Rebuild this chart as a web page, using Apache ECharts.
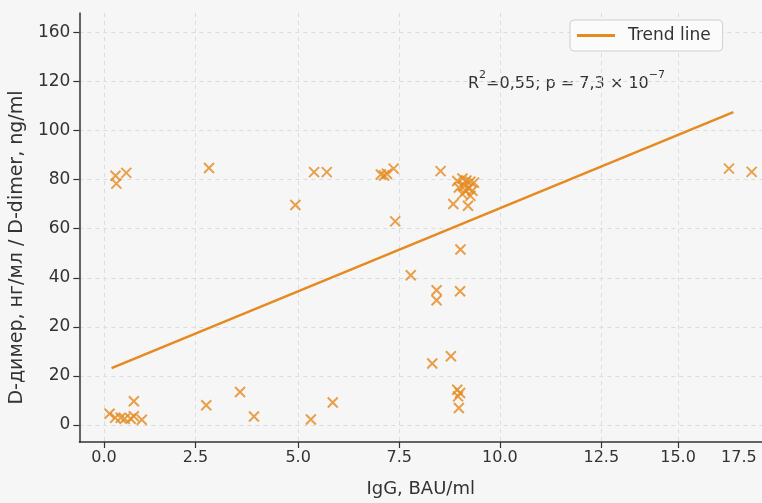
<!DOCTYPE html>
<html>
<head>
<meta charset="utf-8">
<script src="https://cdn.jsdelivr.net/npm/echarts@6/dist/echarts.min.js"></script>
<style>
html,body{margin:0;padding:0;background:#f6f6f6;}
#chart{width:762px;height:503px;}
</style>
</head>
<body>
<div id="chart"></div>
<script>
// IgG (x) and D-dimer (y) values, in the plot's own linear axis units
const iggValues = [
  0.29, 0.31, 0.56, 2.64,
  0.14, 0.28, 0.42, 0.52, 0.67, 0.75, 0.95, 0.75, 2.57, 3.42, 3.77, 5.20, 5.75,
  4.81, 5.28, 5.60, 6.96, 7.04, 7.11, 7.28, 8.46, 7.32, 7.71,
  8.36, 8.36, 8.95, 8.25, 8.72, 8.88, 8.95, 8.90, 8.92, 8.96,
  8.88, 9.01, 9.11, 9.21, 9.30, 8.92, 9.05, 9.17, 9.09, 9.26, 9.01, 9.21, 8.78, 9.15,
  15.71, 16.28
];
const ddimerValues = [
  101.6, 98.4, 102.8, 104.8,
  4.5, 2.9, 2.9, 2.5, 2.5, 3.5, 2.1, 9.6, 8.0, 13.4, 3.4, 2.2, 9.1,
  89.7, 103.1, 103.1, 102.1, 101.7, 102.4, 104.5, 103.5, 83.0, 61.0,
  54.9, 50.8, 54.5, 25.0, 28.0, 14.3, 13.0, 11.6, 6.9, 71.5,
  99.5, 100.5, 99.7, 99.2, 98.8, 96.8, 97.5, 96.5, 95.5, 95.5, 94.1, 93.4, 90.1, 89.4,
  104.5, 103.2
];
// Trend line end points
const trendX = [0.19, 15.82];
const trendY = [23.1, 127.6];

// Tick labels as printed on the reference, with the axis positions where they sit
const xTickLabels = ['0.0', '2.5', '5.0', '7.5', '10.0', '12.5', '15.0', '17.5'];
const xLabelPositions = [0, 2.30, 4.88, 7.42, 9.95, 12.50, 14.43, 15.96];
const xTickPositions = [0, 2.30, 4.88, 7.42, 9.95, 12.50, 14.43];
const yTickLabels = ['0', '20', '20', '40', '60', '80', '100', '120', '160'];
const yTickPositions = [0, 20, 40, 60, 80, 100, 120, 140, 160];

const ORANGE = '#E58A1F';
const FONT = 'DejaVu Sans';

function lookup(positions, labels, v) {
  for (let i = 0; i < positions.length; i++) {
    if (Math.abs(positions[i] - v) < 1e-6) return labels[i];
  }
  return '';
}

const scatterData = iggValues.map((x, i) => [x, ddimerValues[i]]);
const trendData = trendX.map((x, i) => [x, trendY[i]]);

const chart = echarts.init(document.getElementById('chart'), null, {renderer: 'canvas'});
chart.setOption({
  backgroundColor: '#f6f6f6',
  animation: false,
  textStyle: {fontFamily: FONT},
  grid: {left: 78, right: 0, top: 13, bottom: 55, containLabel: false},
  legend: {
    data: [{name: 'Trend line', icon: 'rect'}],
    left: 570, top: 20,
    padding: [7, 12, 7, 7],
    itemWidth: 38, itemHeight: 3,
    itemStyle: {color: ORANGE},
    backgroundColor: '#fbfbfb',
    borderColor: '#cfcfcf', borderWidth: 1, borderRadius: 4,
    textStyle: {fontSize: 17, color: '#333', fontFamily: FONT, padding: [0, 0, 0, 8]}
  },
  xAxis: {
    type: 'value', min: -0.62, max: 16.54,
    name: 'IgG, BAU/ml', nameLocation: 'middle', nameGap: 38,
    nameTextStyle: {fontSize: 18, color: '#333', fontFamily: FONT},
    axisLine: {show: true, onZero: false, lineStyle: {color: '#333', width: 1.5}},
    axisTick: {show: true, length: 6, customValues: xTickPositions, lineStyle: {color: '#333', width: 1.2}},
    axisLabel: {
      customValues: xLabelPositions, fontSize: 16, color: '#333', margin: 8, fontFamily: FONT,
      formatter: v => lookup(xLabelPositions, xTickLabels, v)
    },
    splitLine: {show: true, lineStyle: {type: [4, 4], color: '#d9dde0', width: 1}}
  },
  yAxis: {
    type: 'value', min: -7, max: 168,
    name: 'D-димер, нг/мл / D-dimer, ng/ml', nameLocation: 'middle', nameGap: 52,
    nameTextStyle: {fontSize: 19, color: '#333', fontFamily: FONT, padding: [0, 40, 0, 0]},
    axisLine: {show: true, onZero: false, lineStyle: {color: '#333', width: 1.5}},
    axisTick: {show: true, length: 6, customValues: yTickPositions, lineStyle: {color: '#333', width: 1.2}},
    axisLabel: {
      customValues: yTickPositions, fontSize: 17, color: '#333', margin: 9, fontFamily: FONT,
      formatter: v => lookup(yTickPositions, yTickLabels, v)
    },
    splitLine: {show: true, lineStyle: {type: [4, 4], color: '#d9dde0', width: 1}}
  },
  series: [
    {
      type: 'scatter', name: 'Data',
      data: scatterData,
      symbol: 'path://M0,0L10,10M10,0L0,10',
      symbolSize: 10,
      itemStyle: {color: 'none', borderColor: ORANGE, borderWidth: 2},
      z: 3
    },
    {
      type: 'line', name: 'Trend line',
      data: trendData,
      symbol: 'none', showSymbol: false,
      lineStyle: {color: ORANGE, width: 2.5},
      itemStyle: {color: ORANGE},
      z: 2
    }
  ],
  graphic: [{
    type: 'text', left: 468, top: 70,
    style: {
      text: '{a|R}{s|2}{a|=0,55; p = 7,3 × 10}{s|−7}',
      rich: {
        a: {fontSize: 16, fontFamily: FONT, fill: '#333', verticalAlign: 'bottom', lineHeight: 22},
        s: {fontSize: 11, fontFamily: FONT, fill: '#333', verticalAlign: 'top', lineHeight: 22}
      }
    }
  }]
});
</script>
</body>
</html>
